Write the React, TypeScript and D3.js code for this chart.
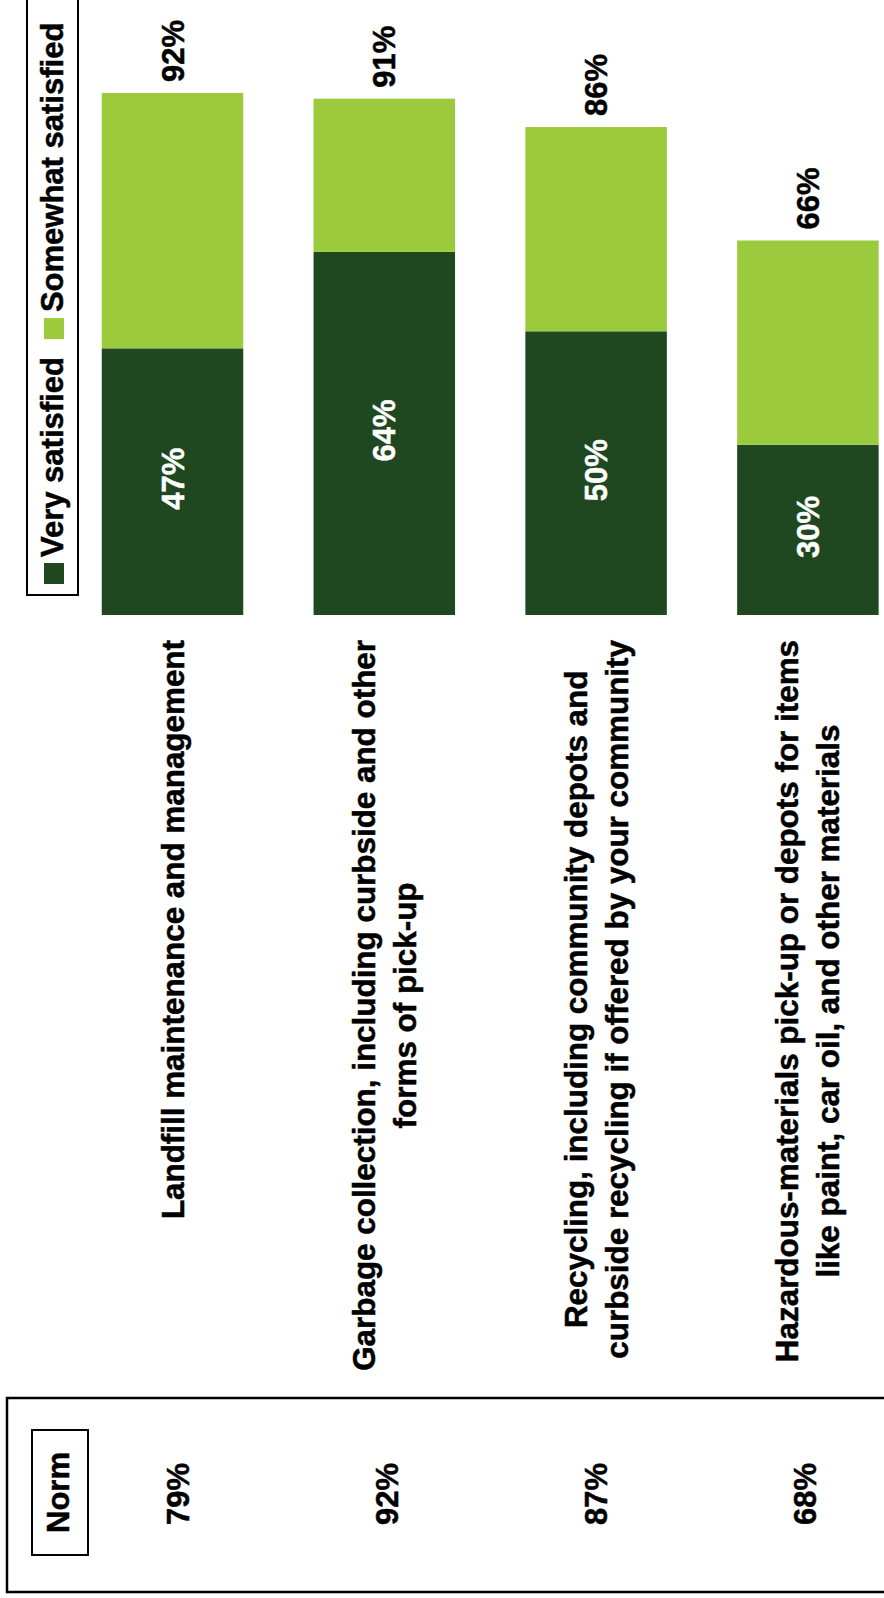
import React, { useEffect, useRef } from "react";
import * as d3 from "d3";

// chart data
const categories: string[] = ["landfill", "garbage", "recycling", "hazardous"];
const categoryLines: string[][] = [
    ["Landfill maintenance and management"],
    ["Garbage collection, including curbside and other", "forms of pick-up"],
    ["Recycling, including community depots and", "curbside recycling if offered by your community"],
    ["Hazardous-materials pick-up or depots for items", "like paint, car oil, and other materials"],
];
const verySatisfied: number[] = [47, 64, 50, 30];
const totalSatisfied: number[] = [92, 91, 86, 66];
const norms: number[] = [79, 92, 87, 68];
const legendLabels: string[] = ["Very satisfied", "Somewhat satisfied"];

const W = 884;
const H = 1598;
const DARK = "#1F4821";
const LIGHT = "#9BCB3C";
const FONT = "'Liberation Sans', Arial, sans-serif";

export default function App() {
    const svgRef = useRef<SVGSVGElement>(null);

    useEffect(() => {
        const svg = d3.select(svgRef.current!);
        svg.selectAll("*").remove();

        // drawn as a horizontal bar chart, then turned a quarter turn left
        const g = svg.append("g")
            .attr("transform", `translate(0,${H}) rotate(-90)`)
            .style("font-family", FONT)
            .style("font-weight", "bold")
            .style("font-size", "31px");

        const y = d3.scaleBand<string>()
            .domain(categories)
            .range([66.6, 913.8])
            .paddingInner(0.332)
            .paddingOuter(0.166);
        const x = d3.scaleLinear().domain([0, 100]).range([983, 1550.4]);
        // the norm column sits on a slightly tighter pitch than the bars
        const yNorm = d3.scalePoint<string>().domain(categories).range([189, 816]);

        const rows = categories.map((c, i) => ({
            key: c,
            very: verySatisfied[i]!,
            total: totalSatisfied[i]!,
            norm: norms[i]!,
            lines: categoryLines[i]!,
        }));
        const mid = (k: string) => y(k)! + y.bandwidth() / 2;

        // bars
        g.selectAll("rect.very").data(rows).join("rect")
            .attr("class", "very")
            .attr("x", x(0))
            .attr("y", d => y(d.key)!)
            .attr("width", d => x(d.very) - x(0))
            .attr("height", y.bandwidth())
            .attr("fill", DARK);
        g.selectAll("rect.some").data(rows).join("rect")
            .attr("class", "some")
            .attr("x", d => x(d.very))
            .attr("y", d => y(d.key)!)
            .attr("width", d => x(d.total) - x(d.very))
            .attr("height", y.bandwidth())
            .attr("fill", LIGHT);

        // value labels
        g.selectAll("text.vlab").data(rows).join("text")
            .attr("class", "vlab")
            .attr("x", d => x(d.very / 2) + 3)
            .attr("y", d => mid(d.key) + 11)
            .attr("text-anchor", "middle")
            .attr("fill", "#fff")
            .attr("stroke", "#fff").attr("stroke-width", 0.5)
            .text(d => `${d.very}%`);
        g.selectAll("text.tlab").data(rows).join("text")
            .attr("class", "tlab")
            .attr("x", d => x(d.total) + 11)
            .attr("y", d => mid(d.key) + 11)
            .attr("fill", "#000")
            .attr("stroke", "#000").attr("stroke-width", 0.5)
            .text(d => `${d.total}%`);

        // category labels: block right-aligned next to the bars, lines centred in it
        const labelRight = 958;
        rows.forEach(d => {
            const lg = g.append("g");
            const texts = lg.selectAll("text").data(d.lines).join("text")
                .attr("text-anchor", "middle")
                .attr("stroke", "#000").attr("stroke-width", 0.5)
                .style("font-size", "31.4px")
                .attr("y", (_, i) => mid(d.key) + 11 + (i - (d.lines.length - 1) / 2) * 41)
                .text(t => t);
            let maxW = 0;
            texts.each(function () {
                maxW = Math.max(maxW, (this as SVGTextElement).getComputedTextLength());
            });
            texts.attr("x", labelRight - maxW / 2);
        });

        // legend
        g.append("rect")
            .attr("x", 1003).attr("y", 27)
            .attr("width", 700).attr("height", 51)
            .attr("fill", "none").attr("stroke", "#000").attr("stroke-width", 2);
        let lx = 1014;
        legendLabels.forEach((lab, i) => {
            g.append("rect")
                .attr("x", lx).attr("y", 44)
                .attr("width", 21).attr("height", 20)
                .attr("fill", i === 0 ? DARK : LIGHT);
            const t = g.append("text")
                .attr("x", lx + 27).attr("y", 63)
                .attr("stroke", "#000").attr("stroke-width", 0.5)
                .text(lab);
            lx = lx + 27 + (t.node() as SVGTextElement).getComputedTextLength() + 18;
        });

        // norm panel
        g.append("rect")
            .attr("x", 6).attr("y", 7)
            .attr("width", 194).attr("height", 1000)
            .attr("fill", "none").attr("stroke", "#000").attr("stroke-width", 2.5);
        g.append("rect")
            .attr("x", 43).attr("y", 32)
            .attr("width", 125).attr("height", 56)
            .attr("fill", "none").attr("stroke", "#000").attr("stroke-width", 2);
        g.append("text")
            .attr("x", 105.5).attr("y", 69)
            .attr("text-anchor", "middle")
            .attr("stroke", "#000").attr("stroke-width", 0.5)
            .text("Norm");
        g.selectAll("text.norm").data(rows).join("text")
            .attr("class", "norm")
            .attr("x", 104)
            .attr("y", d => yNorm(d.key)!)
            .attr("text-anchor", "middle")
            .attr("stroke", "#000").attr("stroke-width", 0.5)
            .text(d => `${d.norm}%`);
    }, []);

    return <svg
        ref={svgRef}
        width={W}
        height={H}
        style={{ position: "absolute", left: 0, top: 0, background: "#fff" }}
    />;
}
